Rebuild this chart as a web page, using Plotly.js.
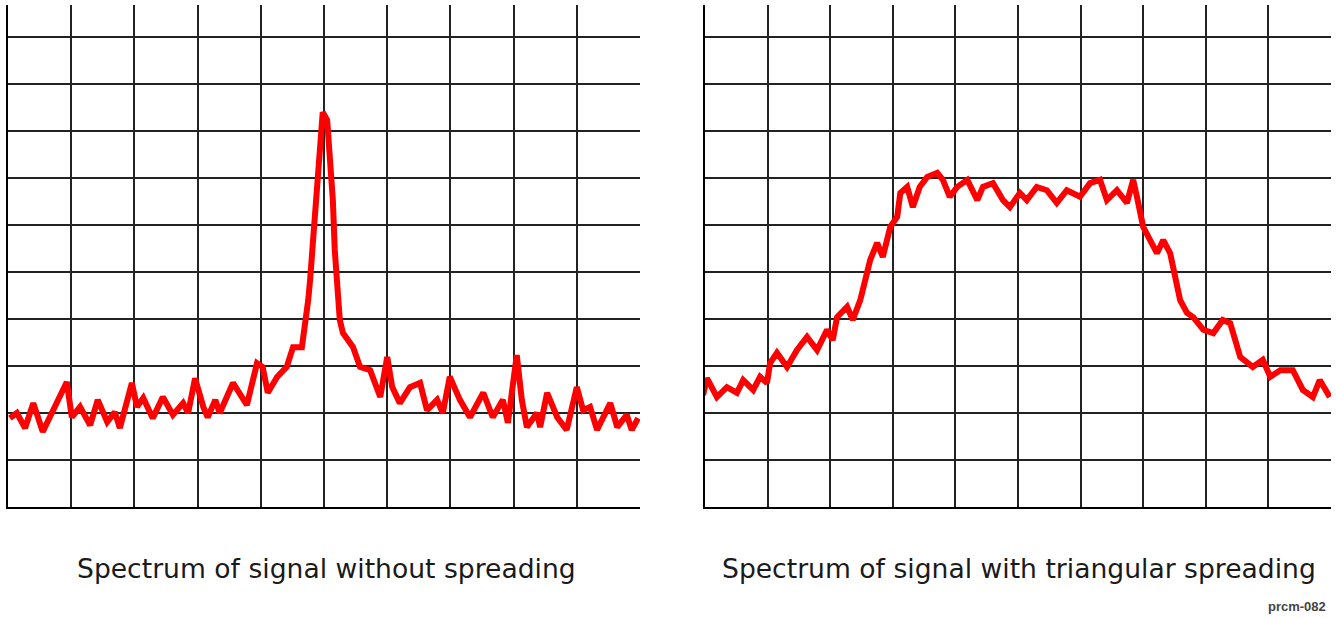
<!DOCTYPE html>
<html>
<head>
<meta charset="utf-8">
<script src="https://cdn.plot.ly/plotly-3.0.1.min.js"></script>
<style>html,body{margin:0;padding:0;background:#fff;}#chart{width:1336px;height:618px;}</style>
</head>
<body>
<div id="chart"></div>
<script>
// Left panel: spectrum without spreading (grid units)
const leftX = [0.03,0.14,0.27,0.40,0.55,0.71,0.93,1.01,1.14,1.30,1.42,1.57,1.69,1.77,1.96,2.04,2.14,2.29,2.45,2.61,2.77,2.85,2.96,3.09,3.16,3.28,3.35,3.56,3.78,3.94,4.03,4.11,4.26,4.41,4.51,4.65,4.70,4.75,4.78,4.83,4.87,4.91,4.94,4.98,5.05,5.09,5.14,5.17,5.21,5.25,5.30,5.46,5.57,5.73,5.89,6.00,6.08,6.20,6.36,6.52,6.63,6.79,6.88,6.99,7.15,7.31,7.52,7.67,7.83,7.91,8.05,8.13,8.21,8.37,8.42,8.53,8.69,8.84,9.00,9.10,9.21,9.32,9.53,9.64,9.79,9.87,9.97];
const leftY = [1.89,2.00,1.68,2.21,1.60,2.06,2.66,1.91,2.13,1.74,2.28,1.81,2.02,1.68,2.64,2.13,2.32,1.89,2.34,1.96,2.21,2.00,2.74,2.13,1.91,2.28,2.00,2.64,2.17,3.06,2.98,2.43,2.77,2.98,3.40,3.40,3.83,4.40,4.83,5.68,6.53,7.38,7.91,8.40,8.23,7.60,6.53,5.47,4.62,3.98,3.70,3.40,2.98,2.91,2.34,3.19,2.55,2.21,2.55,2.64,2.06,2.28,2.00,2.77,2.28,1.91,2.43,1.91,2.28,1.79,3.23,2.28,1.70,2.00,1.70,2.43,1.91,1.64,2.55,2.06,2.13,1.64,2.21,1.70,1.96,1.64,1.89];

// Right panel: spectrum with triangular spreading (grid units)
const rightX = [-0.03,0.03,0.19,0.35,0.51,0.61,0.77,0.88,0.99,1.04,1.15,1.31,1.47,1.63,1.79,1.95,2.04,2.11,2.27,2.36,2.48,2.64,2.75,2.84,2.96,3.07,3.12,3.23,3.32,3.43,3.55,3.71,3.80,3.91,4.03,4.19,4.35,4.44,4.60,4.76,4.87,5.03,5.14,5.30,5.46,5.62,5.78,5.99,6.15,6.31,6.42,6.58,6.74,6.84,6.90,7.00,7.11,7.22,7.32,7.43,7.59,7.70,7.80,7.96,8.12,8.27,8.39,8.55,8.75,8.91,9.03,9.19,9.39,9.55,9.71,9.82,9.98];
const rightY = [2.38,2.74,2.34,2.55,2.43,2.70,2.49,2.77,2.64,3.06,3.28,2.98,3.34,3.62,3.34,3.77,3.55,4.04,4.26,3.98,4.40,5.26,5.62,5.32,5.96,6.17,6.68,6.81,6.38,6.81,7.02,7.11,6.96,6.60,6.81,6.96,6.53,6.81,6.89,6.53,6.38,6.68,6.53,6.81,6.74,6.47,6.74,6.60,6.89,6.96,6.53,6.74,6.47,6.96,6.60,5.96,5.68,5.40,5.68,5.40,4.40,4.13,4.04,3.77,3.70,3.98,3.91,3.19,2.98,3.13,2.77,2.91,2.91,2.49,2.34,2.70,2.34];

const titles = ["Spectrum of signal without spreading", "Spectrum of signal with triangular spreading"];
const figId = "prcm-082";

const gridColor = "#222222";
const traceStyle = {color: "#ff0000", width: 6};

const data = [
  {x: leftX, y: leftY, type: "scatter", mode: "lines", line: traceStyle, xaxis: "x", yaxis: "y", hoverinfo: "skip"},
  {x: rightX, y: rightY, type: "scatter", mode: "lines", line: traceStyle, xaxis: "x2", yaxis: "y2", hoverinfo: "skip"}
];

function xax(domain, anchor) {
  return {domain: domain, anchor: anchor, range: [0, 10], tickvals: [1,2,3,4,5,6,7,8,9],
    showticklabels: false, ticks: "", showgrid: true, gridcolor: gridColor, gridwidth: 2,
    zeroline: false, showline: true, linecolor: "#000", linewidth: 2, fixedrange: true};
}
function yax(anchor) {
  return {domain: [0.1796, 0.9919], anchor: anchor, range: [0, 10.68], tickvals: [1,2,3,4,5,6,7,8,9,10],
    showticklabels: false, ticks: "", showgrid: true, gridcolor: gridColor, gridwidth: 2,
    zeroline: false, showline: true, linecolor: "#000", linewidth: 2, fixedrange: true};
}

const titleFont = {family: "DejaVu Sans, Verdana, sans-serif", size: 26.6, color: "#1a1a1a"};

const layout = {
  width: 1336, height: 618,
  margin: {l: 0, r: 0, t: 0, b: 0},
  paper_bgcolor: "#fff", plot_bgcolor: "#fff",
  showlegend: false,
  xaxis: xax([0.00599, 0.47904], "y"),
  yaxis: yax("x"),
  xaxis2: xax([0.52769, 0.99626], "y2"),
  yaxis2: yax("x2"),
  annotations: [
    {text: titles[0], xref: "paper", yref: "paper", x: 0.2445, y: 0.0809, xanchor: "center", yanchor: "middle", showarrow: false, font: titleFont},
    {text: titles[1], xref: "paper", yref: "paper", x: 0.7627, y: 0.0809, xanchor: "center", yanchor: "middle", showarrow: false, font: titleFont},
    {text: figId, xref: "paper", yref: "paper", x: 0.994, y: 0.0178, xanchor: "right", yanchor: "middle", showarrow: false,
     font: {family: "Liberation Sans, Arial, sans-serif", size: 13, color: "#444", weight: "bold"}}
  ]
};

Plotly.newPlot("chart", data, layout, {displayModeBar: false, staticPlot: true});
</script>
</body>
</html>
